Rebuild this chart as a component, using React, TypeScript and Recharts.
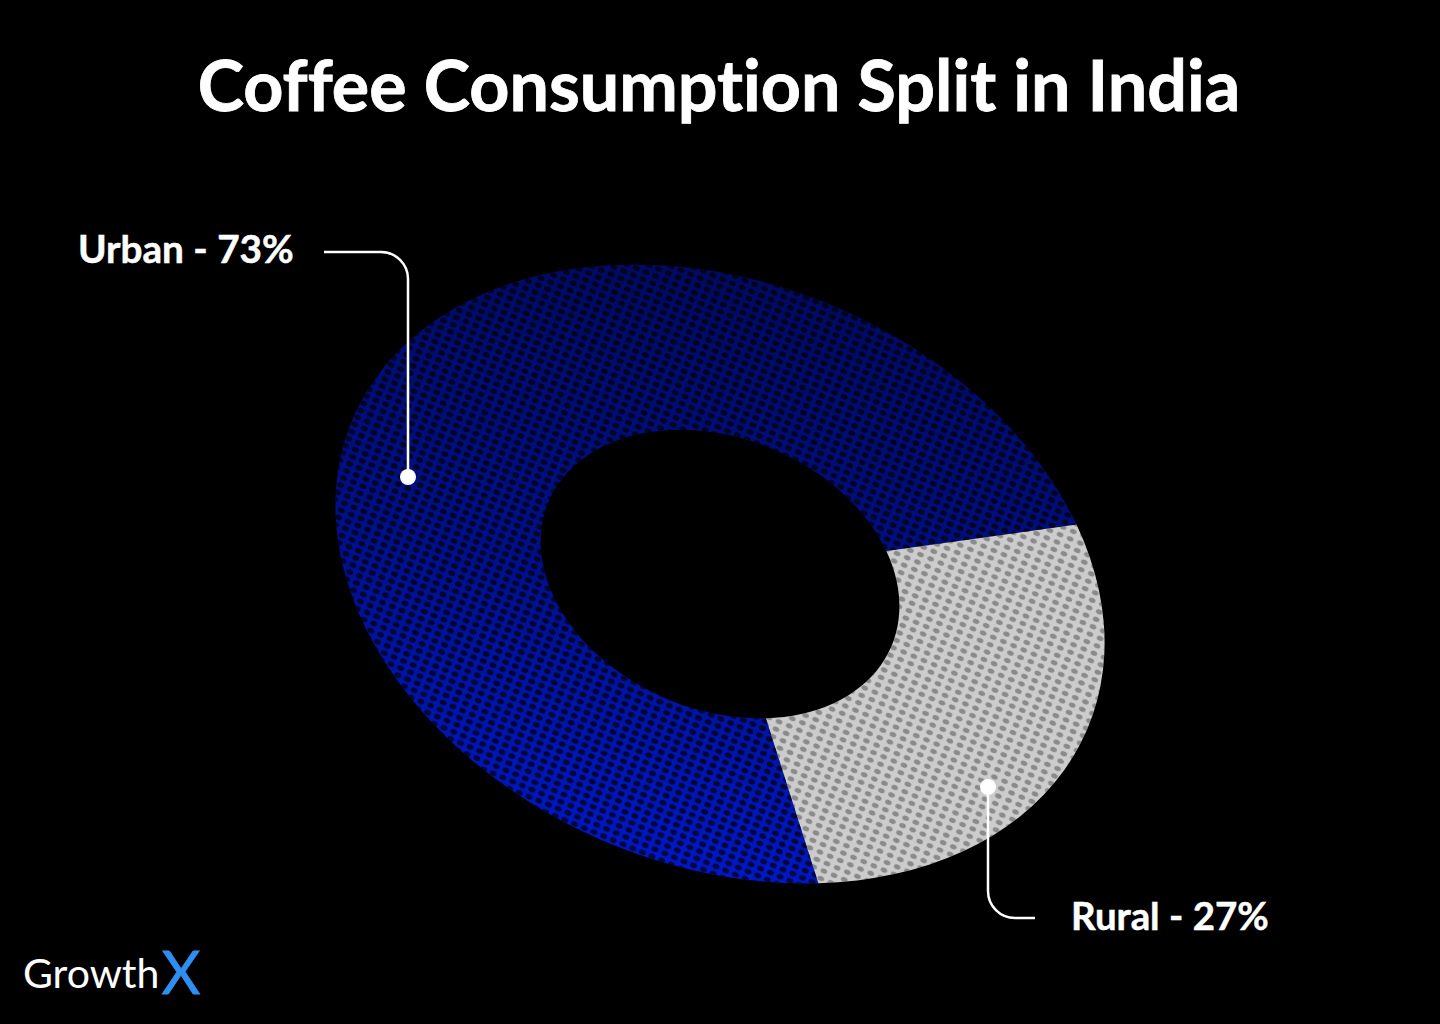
import React from "react";
import { PieChart, Pie, Cell } from "recharts";

const segmentNames = ["Urban", "Rural"];
const segmentValues = [73, 27];
const baseFills = ["url(#urbanGrad)", "#cccccc"];
const dotFills = ["url(#urbanDots)", "url(#ruralDots)"];
const data = segmentNames.map((name, i) => ({ name, value: segmentValues[i] }));

const FONT = "Lato, 'Noto Sans', sans-serif";
const SIZE = 800;
// The reference's Rural slice is drawn about 100.8 degrees wide, slightly more than its
// labelled 27% (97.2 degrees). Values follow the labels; the start angle splits the difference.
const START_ANGLE = 39;
const noLig = { fontVariantLigatures: "none" } as React.CSSProperties;

export default function App() {
  return (
    <div style={{ position: "absolute", left: 0, top: 0, width: 1440, height: 1024, background: "#000", overflow: "hidden" }}>
      <div style={{ position: "absolute", left: 320, top: 174, width: SIZE, height: SIZE, transform: "rotate(22.7deg) scaleY(0.73)", transformOrigin: "50% 50%" }}>
        <PieChart width={SIZE} height={SIZE} margin={{ top: 0, right: 0, bottom: 0, left: 0 }}>
          <defs>
            <linearGradient id="urbanGrad" gradientUnits="userSpaceOnUse" x1={280} y1={8} x2={520} y2={792}>
              <stop offset="0%" stopColor="#000a60" />
              <stop offset="55%" stopColor="#00108c" />
              <stop offset="100%" stopColor="#0018c8" />
            </linearGradient>
            <pattern id="urbanDots" patternUnits="userSpaceOnUse" width={10.5} height={10.5}>
              <circle cx={5.25} cy={5.25} r={3.6} fill="#000" fillOpacity={0.7} />
            </pattern>
            <pattern id="ruralDots" patternUnits="userSpaceOnUse" width={11} height={11}>
              <circle cx={5.5} cy={5.5} r={3.4} fill="#000" fillOpacity={0.32} />
            </pattern>
          </defs>
          <Pie data={data} dataKey="value" nameKey="name" cx={400} cy={400} innerRadius={186} outerRadius={398.7} startAngle={START_ANGLE} endAngle={START_ANGLE + 360} stroke="none" isAnimationActive={false}>
            {data.map((d, i) => <Cell key={d.name} fill={baseFills[i]} stroke="none" />)}
          </Pie>
          <Pie data={data} dataKey="value" nameKey="name" cx={400} cy={400} innerRadius={186} outerRadius={398.7} startAngle={START_ANGLE} endAngle={START_ANGLE + 360} stroke="none" isAnimationActive={false}>
            {data.map((d, i) => <Cell key={d.name} fill={dotFills[i]} stroke="none" />)}
          </Pie>
        </PieChart>
      </div>
      <svg width={1440} height={1024} style={{ position: "absolute", left: 0, top: 0 }}>
        <text x={719} y={111} textAnchor="middle" fill="#fff" stroke="#fff" strokeWidth={0.8} fontFamily={FONT} fontWeight={700} fontSize={70} style={noLig}>Coffee Consumption Split in India</text>
        <text x={78} y={263} fill="#fff" stroke="#fff" strokeWidth={0.5} fontFamily={FONT} fontWeight={700} fontSize={38.7} style={noLig}>Urban - 73%</text>
        <text x={1071} y={930} fill="#fff" stroke="#fff" strokeWidth={0.5} fontFamily={FONT} fontWeight={700} fontSize={38.4} style={noLig}>Rural - 27%</text>
        <path d="M324 252 H381 A27 27 0 0 1 408 279 V477" fill="none" stroke="#fff" strokeWidth={2.5} />
        <circle cx={408} cy={477} r={8} fill="#fff" />
        <path d="M988 787 V891 A27 27 0 0 0 1015 918 H1035" fill="none" stroke="#fff" strokeWidth={2.5} />
        <circle cx={988} cy={787} r={8} fill="#fff" />
        <text x={23} y={988} fill="#fff" fontFamily={FONT} fontWeight={400} fontSize={41} style={noLig}>Growth<tspan fill="#2f8ff0" stroke="#2f8ff0" strokeWidth={0.8} fontWeight={400} fontSize={60} dx={2} dy={6}>X</tspan></text>
      </svg>
    </div>
  );
}
